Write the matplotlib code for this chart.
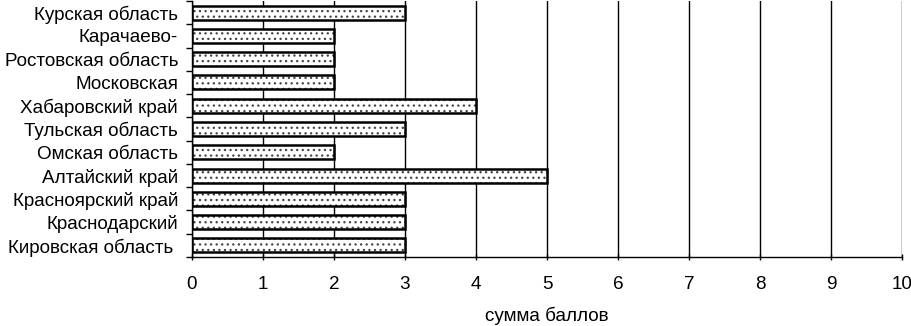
import matplotlib
matplotlib.use("Agg")
import matplotlib.pyplot as plt
import numpy as np

categories = ["Курская область", "Карачаево-", "Ростовская область", "Московская",
              "Хабаровский край", "Тульская область", "Омская область", "Алтайский край",
              "Красноярский край", "Краснодарский", "Кировская область "]
values = [3, 2, 2, 2, 4, 3, 2, 5, 3, 3, 3]
xticks = list(range(0, 11))
xlabel = "сумма баллов"

plt.rcParams['font.family'] = ['Liberation Sans', 'DejaVu Sans']
plt.rcParams['hatch.linewidth'] = 0.9

fs = 13.6
fig = plt.figure(figsize=(9.12, 3.26), dpi=100)
ax = fig.add_axes([192/912, 1 - 257/326, 710/912, 256/326])

y = np.arange(len(categories))
ax.barh(y, values, height=0.6, color='white', edgecolor='#444444', hatch='...', linewidth=0, zorder=2)
ax.barh(y, values, height=0.6, fill=False, edgecolor='black', linewidth=1.8, zorder=3)

ax.set_xlim(0, 10)
ax.set_ylim(len(categories) - 0.5, -0.5)
ax.set_xticks(xticks)
ax.set_xticklabels([str(t) for t in xticks], fontsize=fs)
ax.set_yticks(y)
ax.set_yticklabels(categories, fontsize=fs)
ax.set_yticks(np.arange(-0.5, len(categories), 1), minor=True)
ax.tick_params(axis='y', which='major', length=0, pad=10)
ax.tick_params(axis='y', which='minor', length=4, width=1, direction='out')
ax.tick_params(axis='x', length=5, width=1, direction='inout', pad=11)
ax.xaxis.grid(True, color='black', linewidth=1, zorder=0)
ax.set_axisbelow(True)
for s in ['top', 'right']:
    ax.spines[s].set_visible(False)
for s in ['left', 'bottom']:
    ax.spines[s].set_linewidth(1)
ax.set_xlabel(xlabel, fontsize=fs, labelpad=10)

fig.savefig("out.png", dpi=100)
